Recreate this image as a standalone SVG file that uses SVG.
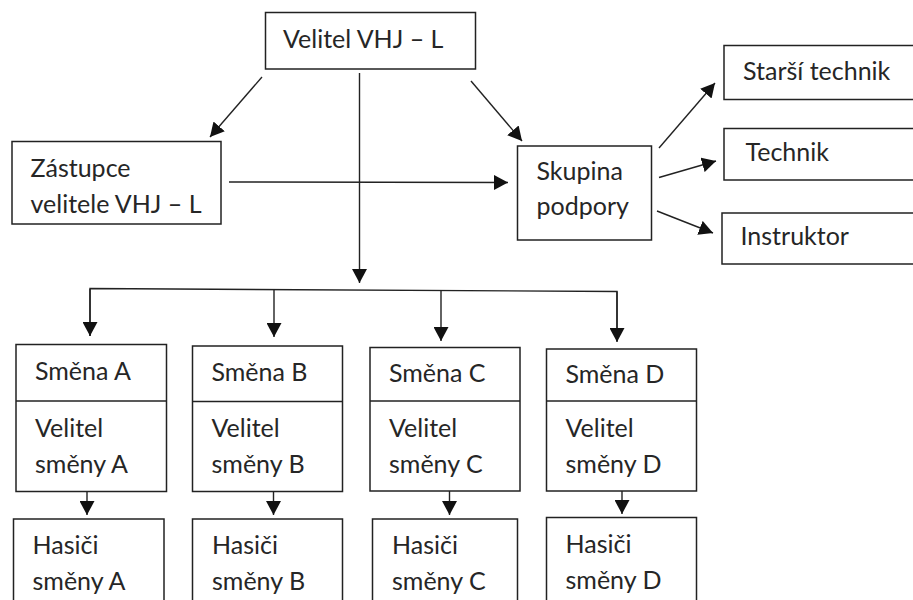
<svg xmlns="http://www.w3.org/2000/svg" width="913" height="600" viewBox="0 0 913 600">
<defs>
<marker id="ah" markerUnits="userSpaceOnUse" markerWidth="15" markerHeight="15" refX="14" refY="7.5" orient="auto">
<path d="M0,0 L14,7.5 L0,15 z" fill="#111"/>
</marker>
<style>
rect{fill:#fff;stroke:#222;stroke-width:1.5}
.d{stroke:#222;stroke-width:1.5}
text{font-family:Lato,"Liberation Sans",sans-serif;font-size:25px;fill:#262626}
.c line,.c polyline{stroke:#222;stroke-width:1.4;fill:none}
.a{marker-end:url(#ah)}
</style>
</defs>
<rect x="0" y="0" width="913" height="600" style="stroke:none"/>
<g class="c">
<line class="a" x1="262" y1="77" x2="210" y2="137"/>
<line class="a" x1="471" y1="81" x2="522" y2="141"/>
<line class="a" x1="359.5" y1="73" x2="359.5" y2="283"/>
<line class="a" x1="229" y1="182" x2="508" y2="182.5"/>
<line class="a" x1="659" y1="148" x2="715" y2="83"/>
<line class="a" x1="659" y1="177.5" x2="716" y2="161"/>
<line class="a" x1="657" y1="211" x2="713" y2="233"/>
<polyline points="90,336 90,288.5 617,291.5 617,341"/>
<line class="a" x1="90" y1="289" x2="90" y2="336"/>
<line class="a" x1="274" y1="289.5" x2="274" y2="337"/>
<line class="a" x1="441" y1="290.5" x2="441" y2="341"/>
<line class="a" x1="617" y1="291.5" x2="617" y2="342"/>
<line class="a" x1="87" y1="492" x2="87" y2="515"/>
<line class="a" x1="273.5" y1="492" x2="273.5" y2="515"/>
<line class="a" x1="449.5" y1="491" x2="449.5" y2="515"/>
<line class="a" x1="622" y1="491" x2="622" y2="514"/>
</g>
<g id="velitel">
<rect x="265.5" y="12.5" width="210" height="56.5"/>
<text x="283" y="48">Velitel VHJ – L</text>
</g>
<g id="zastupce">
<rect x="12" y="141.5" width="209" height="82.5"/>
<text x="30.5" y="177">Zástupce</text>
<text x="30.5" y="213">velitele VHJ – L</text>
</g>
<g id="skupina">
<rect x="517.5" y="146" width="134" height="94"/>
<text x="536.5" y="179.5">Skupina</text>
<text x="536.5" y="215">podpory</text>
</g>
<g id="starsi">
<rect x="724" y="45.5" width="200" height="54"/>
<text x="743" y="79.5">Starší technik</text>
</g>
<g id="technik">
<rect x="724" y="128.5" width="200" height="51.5"/>
<text x="745.5" y="161">Technik</text>
</g>
<g id="instruktor">
<rect x="722" y="213" width="200" height="51"/>
<text x="740.5" y="245">Instruktor</text>
</g>
<g id="smenaA">
<rect x="16" y="344.5" width="150.5" height="147"/>
<line class="d" x1="16" y1="401" x2="166.5" y2="401"/>
<text x="35" y="380">Směna A</text>
<text x="35" y="437">Velitel</text>
<text x="35" y="473">směny A</text>
</g>
<g id="smenaB">
<rect x="192.5" y="346" width="150" height="145.5"/>
<line class="d" x1="192.5" y1="401.5" x2="342.5" y2="401.5"/>
<text x="211.5" y="381">Směna B</text>
<text x="211.5" y="437">Velitel</text>
<text x="211.5" y="473">směny B</text>
</g>
<g id="smenaC">
<rect x="370" y="347.5" width="150" height="143.5"/>
<line class="d" x1="370" y1="401" x2="520" y2="401"/>
<text x="389" y="382">Směna C</text>
<text x="389" y="437">Velitel</text>
<text x="389" y="473">směny C</text>
</g>
<g id="smenaD">
<rect x="546.5" y="349" width="150" height="142"/>
<line class="d" x1="546.5" y1="401" x2="696.5" y2="401"/>
<text x="565.5" y="383">Směna D</text>
<text x="565.5" y="437">Velitel</text>
<text x="565.5" y="473">směny D</text>
</g>
<g id="hasiciA">
<rect x="13.5" y="519" width="150.5" height="100"/>
<text x="32.5" y="554">Hasiči</text>
<text x="32.5" y="590">směny A</text>
</g>
<g id="hasiciB">
<rect x="192.5" y="519" width="150" height="100"/>
<text x="212" y="554">Hasiči</text>
<text x="212" y="590">směny B</text>
</g>
<g id="hasiciC">
<rect x="372.5" y="519" width="145" height="100"/>
<text x="392" y="554">Hasiči</text>
<text x="392" y="590">směny C</text>
</g>
<g id="hasiciD">
<rect x="546.5" y="517.5" width="150" height="100"/>
<text x="565.5" y="553">Hasiči</text>
<text x="565.5" y="589">směny D</text>
</g>
</svg>
